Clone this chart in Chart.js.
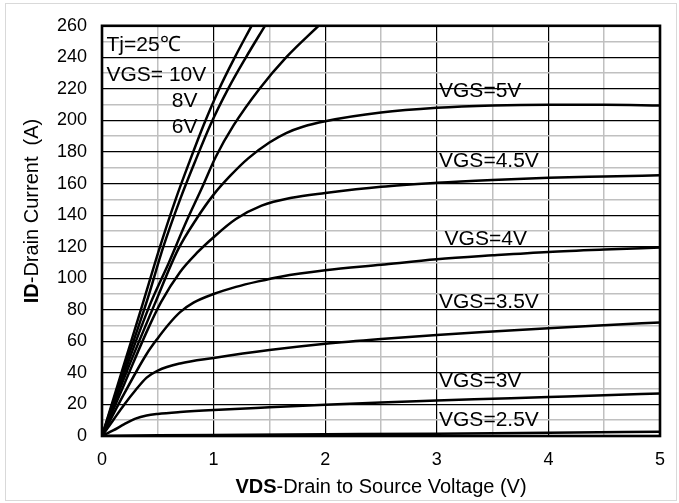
<!DOCTYPE html>
<html>
<head>
<meta charset="utf-8">
<script src="https://cdn.jsdelivr.net/npm/chart.js@4.4.0/dist/chart.umd.min.js"></script>
<style>
html,body{margin:0;padding:0;background:#fff;}
canvas{display:block;}
</style>
</head>
<body>
<canvas id="c" width="679" height="503"></canvas>
<script>
// ---- Data (VDS in V, ID in A) ----
const vgs10V  = [0, 0.2, 0.37, 0.52, 0.66, 0.79, 0.91, 1.05, 1.19, 1.34];
const vgs10I  = [0, 46, 85, 120, 150, 175, 197, 220, 240, 260];

const vgs8V   = [0, 0.2, 0.40, 0.55, 0.70, 0.84, 0.97, 1.13, 1.29, 1.46];
const vgs8I   = [0, 43, 85, 120, 150, 175, 197, 220, 240, 260];

const vgs6V   = [0, 0.2, 0.44, 0.6, 0.75, 0.9, 1.02, 1.18, 1.41, 1.65, 1.94];
const vgs6I   = [0, 40, 85, 110, 135, 158, 177, 197, 220, 240, 260];

const vgs5V   = [0, 0.2, 0.48, 0.68, 0.85, 1.0, 1.15, 1.31, 1.5, 1.65, 1.8, 2.0, 2.5, 3.0, 3.5, 4.0, 4.5, 5.0];
const vgs5I   = [0, 37, 85, 118, 138, 153, 165, 176, 186, 192, 196, 199.5, 205, 208, 209.5, 210, 210, 209.5];

const vgs45V  = [0, 0.2, 0.4, 0.53, 0.7, 0.85, 1.0, 1.2, 1.43, 1.7, 2.0, 2.5, 3.0, 3.5, 4.0, 4.5, 5.0];
const vgs45I  = [0, 33, 66, 85, 104, 116, 126, 137.5, 146, 151, 154, 158, 160.5, 162.3, 163.7, 164.5, 165.2];

const vgs4V   = [0, 0.2, 0.4, 0.5, 0.6, 0.7, 0.82, 1.0, 1.2, 1.4, 1.6, 2.0, 2.5, 3.0, 3.5, 4.0, 4.5, 5.0];
const vgs4I   = [0, 27, 52, 62, 71, 78.5, 84.5, 90, 94.5, 98, 101, 105, 108.5, 112, 114.5, 116.7, 118.2, 119.4];

const vgs35V  = [0, 0.1, 0.2, 0.3, 0.4, 0.5, 0.7, 1.0, 1.5, 2.0, 2.5, 3.0, 3.5, 4.0, 4.5, 5.0];
const vgs35I  = [0, 10, 20, 29, 37, 41.5, 46, 49.5, 54.5, 58.5, 61.5, 64, 66.2, 68.3, 70.2, 72];

const vgs3V   = [0, 0.1, 0.2, 0.3, 0.4, 0.5, 0.7, 1.0, 1.5, 2.0, 2.5, 3.0, 3.5, 4.0, 4.5, 5.0];
const vgs3I   = [0, 3.5, 7.5, 11, 13, 14, 15.2, 16.5, 18.2, 19.8, 21.2, 22.5, 23.6, 24.7, 25.8, 27];

const vgs25V  = [0, 0.5, 1, 2, 3, 4, 5];
const vgs25I  = [0, 0.4, 0.7, 1.1, 1.5, 2.0, 2.7];

const xTickLabels = [0, 1, 2, 3, 4, 5];
const yTickLabels = [0, 20, 40, 60, 80, 100, 120, 140, 160, 180, 200, 220, 240, 260];

const seriesNames = ['VGS=10V','VGS=8V','VGS=6V','VGS=5V','VGS=4.5V','VGS=4V','VGS=3.5V','VGS=3V','VGS=2.5V'];
const seriesV = [vgs10V, vgs8V, vgs6V, vgs5V, vgs45V, vgs4V, vgs35V, vgs3V, vgs25V];
const seriesI = [vgs10I, vgs8I, vgs6I, vgs5I, vgs45I, vgs4I, vgs35I, vgs3I, vgs25I];

// ---- Build datasets ----
const datasets = seriesNames.map((name, k) => ({
  label: name,
  data: seriesV[k].map((v, i) => ({x: v, y: seriesI[k][i]})),
  showLine: true,
  borderColor: '#000',
  backgroundColor: '#000',
  borderWidth: 2.5,
  pointRadius: 0,
  pointHoverRadius: 0,
  cubicInterpolationMode: 'monotone',
  fill: false
}));

// In-plot annotation texts (anchored in data coordinates)
const notes = [
  {t: 'Tj=25\u2103', x: 0.04, y: 248},
  {t: 'VGS= 10V', x: 0.04, y: 229},
  {t: '8V', x: 0.625, y: 212.5},
  {t: '6V', x: 0.625, y: 196},
  {t: 'VGS=5V', x: 3.02, y: 218.5},
  {t: 'VGS=4.5V', x: 3.02, y: 174},
  {t: 'VGS=4V', x: 3.07, y: 124.5},
  {t: 'VGS=3.5V', x: 3.02, y: 84.5},
  {t: 'VGS=3V', x: 3.02, y: 34.5},
  {t: 'VGS=2.5V', x: 3.02, y: 10}
];

const FONT = '"Liberation Sans", Arial, sans-serif';

const deco = {
  id: 'deco',
  beforeDraw(chart) {
    const c = chart.ctx;
    c.save();
    c.fillStyle = '#fff';
    c.fillRect(0, 0, chart.width, chart.height);
    c.strokeStyle = '#d9d9d9';
    c.lineWidth = 1;
    c.strokeRect(5.5, 3.5, 671, 497);
    c.restore();
  },
  afterDraw(chart) {
    const c = chart.ctx, a = chart.chartArea;
    const xs = chart.scales.x, ys = chart.scales.y;
    c.save();
    // plot frame
    c.strokeStyle = '#000';
    c.lineWidth = 2.6;
    c.strokeRect(a.left, a.top, a.right - a.left, a.bottom - a.top);
    // annotations
    c.fillStyle = '#000';
    c.font = '21px ' + FONT;
    c.textAlign = 'left';
    c.textBaseline = 'middle';
    notes.forEach(n => c.fillText(n.t, xs.getPixelForValue(n.x), ys.getPixelForValue(n.y)));
    // x axis title
    c.textBaseline = 'alphabetic';
    const b1 = 'VDS', r1 = '-Drain to Source Voltage (V)';
    c.font = 'bold 20px ' + FONT; const wb1 = c.measureText(b1).width;
    c.font = '20px ' + FONT; const wr1 = c.measureText(r1).width;
    let x0 = (a.left + a.right) / 2 - (wb1 + wr1) / 2;
    c.font = 'bold 20px ' + FONT; c.fillText(b1, x0, 493);
    c.font = '20px ' + FONT; c.fillText(r1, x0 + wb1, 493);
    // y axis title
    const b2 = 'ID', r2 = '-Drain Current  (A)';
    c.font = 'bold 20px ' + FONT; const wb2 = c.measureText(b2).width;
    c.font = '20px ' + FONT; const wr2 = c.measureText(r2).width;
    c.translate(38, 211);
    c.rotate(-Math.PI / 2);
    const y0 = -(wb2 + wr2) / 2;
    c.font = 'bold 20px ' + FONT; c.fillText(b2, y0, 0);
    c.font = '20px ' + FONT; c.fillText(r2, y0 + wb2, 0);
    c.restore();
  }
};

const isInt = v => Math.abs(v - Math.round(v)) < 1e-9;

new Chart(document.getElementById('c'), {
  type: 'scatter',
  data: {datasets},
  options: {
    responsive: false,
    animation: false,
    events: [],
    layout: {padding: {top: 20, right: 19, left: 0, bottom: 0}},
    plugins: {legend: {display: false}, tooltip: {enabled: false}, title: {display: false}},
    scales: {
      x: {
        type: 'linear', min: 0, max: 5,
        afterFit: s => { s.height = 67; },
        ticks: {
          stepSize: 0.5, autoSkip: false, maxRotation: 0, padding: 13,
          color: '#000', font: {family: FONT, size: 18},
          callback: v => xTickLabels.includes(v) ? String(v) : ''
        },
        grid: {
          drawTicks: false,
          color: c => (c.tick && isInt(c.tick.value)) ? '#000' : '#c0c0c0',
          lineWidth: c => (c.tick && isInt(c.tick.value)) ? 1.2 : 1.5
        },
        border: {display: false}
      },
      y: {
        type: 'linear', min: 0, max: 260,
        afterFit: s => { s.width = 102; },
        ticks: {
          stepSize: 10, autoSkip: false, padding: 15,
          color: '#000', font: {family: FONT, size: 18},
          callback: v => yTickLabels.includes(v) ? String(v) : ''
        },
        grid: {
          drawTicks: false,
          color: c => (c.tick && c.tick.value % 20 === 0) ? '#000' : '#c0c0c0',
          lineWidth: c => (c.tick && c.tick.value % 20 === 0) ? 1.2 : 1.5
        },
        border: {display: false}
      }
    }
  },
  plugins: [deco]
});
</script>
</body>
</html>
